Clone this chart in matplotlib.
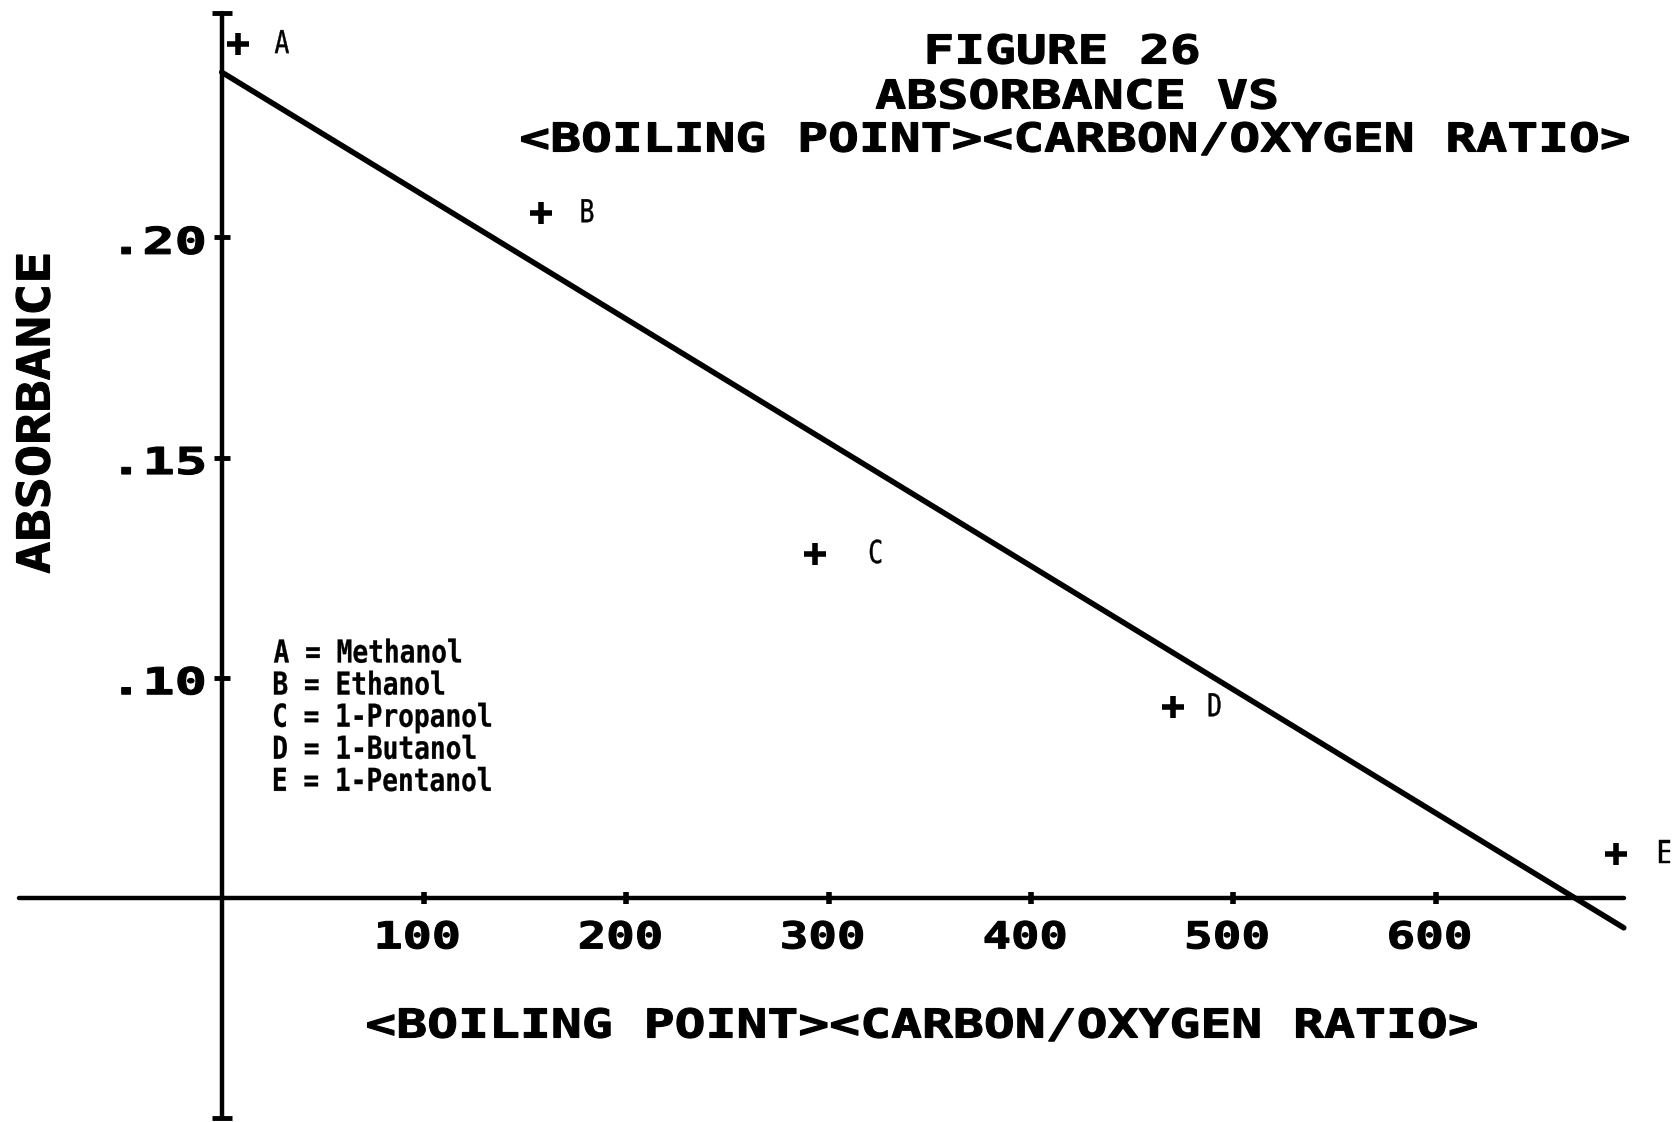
import matplotlib.pyplot as plt
import numpy as np
from matplotlib.font_manager import FontProperties
from matplotlib.patches import PathPatch
from matplotlib.textpath import TextPath
from matplotlib.transforms import Affine2D

# Alcohol series: (boiling point)(carbon/oxygen ratio) vs absorbance
labels = ["A", "B", "C", "D", "E"]
names = ["Methanol", "Ethanol", "1-Propanol", "1-Butanol", "1-Pentanol"]
bp_co = [8, 158, 293, 470, 689]
absorbance = [0.244, 0.2056, 0.1282, 0.0934, 0.060]

# fitted straight line, end points
fit_x = [0, 693]
fit_y = [0.2375, 0.0432]

x_ticks = [100, 200, 300, 400, 500, 600]
y_ticks = [0.10, 0.15, 0.20]
y_tick_labels = [".10", ".15", ".20"]

title_lines = ["FIGURE 26", "ABSORBANCE VS", "<BOILING POINT><CARBON/OXYGEN RATIO>"]
x_label = "<BOILING POINT><CARBON/OXYGEN RATIO>"
y_label = "ABSORBANCE"

# label offsets (pixels) to the right of each marker
label_dx = [44, 46, 61, 42, 49]

BLOCK = "DejaVu Sans Mono"
CAP_EM = 0.729  # cap height of DejaVu Sans Mono, in em
W, H = 1680, 1122

fig = plt.figure(figsize=(W / 100, H / 100), dpi=100)
ax = fig.add_axes([0, 0, 1, 1])
ax.set_xlim(-109.6, 720.8)
ax.set_ylim(-0.0009, 0.2539)
ax.axis("off")


def block_text(x, y, s, cap, width=None, stretch=1.0, ha="center",
               rotation=0, weight="bold", family=BLOCK, edge=0.8):
    """Draw text as a stretched outline, centred vertically on (x, y) in pixels."""
    tp = TextPath((0, 0), s, size=1, prop=FontProperties(family=family, weight=weight))
    bb = tp.get_extents()
    sy = cap / CAP_EM
    sx = width / bb.width if width else sy * stretch
    x0 = {"center": (bb.x0 + bb.x1) / 2, "left": bb.x0, "right": bb.x1}[ha]
    t = (Affine2D().translate(-x0, -CAP_EM / 2).scale(sx, sy)
         .rotate_deg(rotation).translate(x, y))
    fig.add_artist(PathPatch(tp, transform=t, facecolor="black",
                             edgecolor="black", lw=edge))


def to_px(x, y):
    return ax.transData.transform((x, y))


# axes drawn as plotter strokes: x axis sits at absorbance 0.05
ax.plot([-100, 693], [0.05, 0.05], color="black", lw=3.2, solid_capstyle="round")
ax.plot([0, 0], [0.0, 0.251], color="black", lw=3.2, solid_capstyle="round")
ax.plot([0, 0], [0.0, 0.251], ls="none", marker="_", ms=14, mew=3.5, color="black")
ax.plot(x_ticks, [0.05] * len(x_ticks), ls="none", marker="|", ms=9, mew=4, color="black")
ax.plot([0] * len(y_ticks), y_ticks, ls="none", marker="_", ms=11, mew=3.5, color="black")

for xt in x_ticks:
    px, py = to_px(xt, 0.05)
    block_text(px - 6, py - 37, str(xt), cap=27, width=80)
for yt, lab in zip(y_ticks, y_tick_labels):
    px, py = to_px(0, yt)
    block_text(px - 18, py - 3, lab, cap=27, width=82, ha="right")

ax.plot(fit_x, fit_y, color="black", lw=4, solid_capstyle="round")
ax.plot(bp_co, absorbance, ls="none", marker="+", ms=16, mew=4, color="black")
for x, y, lab, dx in zip(bp_co, absorbance, labels, label_dx):
    px, py = to_px(x, y)
    block_text(px + dx, py + 2, lab, cap=23, stretch=0.78, weight="normal", edge=0.3)

# key of compound letters
for i, (lab, name) in enumerate(zip(labels, names)):
    block_text(274, H - 651 - i * 32.1, f"{lab} = {name}", cap=23, stretch=0.83,
               ha="left", edge=0.2)

block_text(1063, H - 49, title_lines[0], cap=29, width=270)
block_text(1076, H - 94, title_lines[1], cap=29, width=400)
block_text(1075, H - 137, title_lines[2], cap=29, width=1107)
block_text(922, H - 1023, x_label, cap=29, width=1109)
block_text(33, H - 414, y_label, cap=33, width=318, rotation=90)

fig.savefig("out.png", dpi=100, facecolor="white")
